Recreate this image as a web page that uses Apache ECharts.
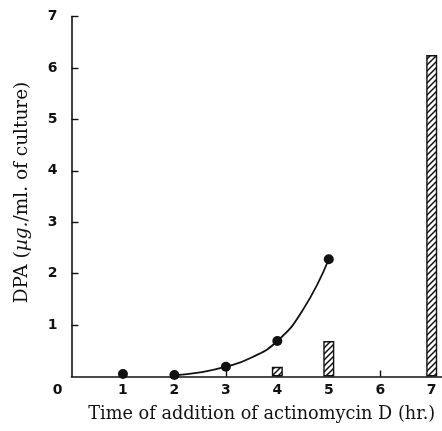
<!DOCTYPE html>
<html>
<head>
<meta charset="utf-8">
<script src="https://cdn.jsdelivr.net/npm/echarts@6/dist/echarts.min.js"></script>
<style>
  html, body { margin: 0; padding: 0; background: #fff; }
  #chart { width: 442px; height: 431px; }
</style>
</head>
<body>
<div id="chart"></div>
<script>
// DPA measured after actinomycin D was added at different times
const hours = [1, 2, 3, 4, 5];
const dpaDots = [0.05, 0.03, 0.19, 0.69, 2.28];

// fitted trend line through the later measurements
const curveHours = [2, 2.5, 3, 3.5, 4, 4.5, 5];
const curveValues = [0.02, 0.08, 0.19, 0.37, 0.69, 1.3, 2.28];

// hatched bars
const barHours = [4, 5, 7];
const barValues = [0.19, 0.69, 6.25];

const xTicks = [0, 1, 2, 3, 4, 5, 6, 7];
const yTicks = [0, 1, 2, 3, 4, 5, 6, 7];

// diagonal hatch tile for the bars
function hatchTile() {
  const s = 6;
  const c = document.createElement('canvas');
  c.width = s; c.height = s;
  const g = c.getContext('2d');
  g.fillStyle = '#fff';
  g.fillRect(0, 0, s, s);
  g.strokeStyle = '#111';
  g.lineWidth = 1.5;
  g.beginPath();
  g.moveTo(-1, s + 1); g.lineTo(s + 1, -1);
  g.moveTo(-1, 1); g.lineTo(1, -1);
  g.moveTo(s - 1, s + 1); g.lineTo(s + 1, s - 1);
  g.stroke();
  return c;
}

const tickFont = { fontFamily: 'DejaVu Sans', fontWeight: 'bold', fontSize: 14, color: '#111' };
const titleFont = { fontFamily: 'DejaVu Serif', fontSize: 18.5, color: '#111' };

const chart = echarts.init(document.getElementById('chart'), null, { renderer: 'canvas' });
chart.setOption({
  animation: false,
  backgroundColor: '#fff',
  grid: { left: 71.5, right: 0, top: 16.5, bottom: 54.5, containLabel: false, outerBoundsMode: 'none' },
  xAxis: {
    type: 'value',
    min: 0, max: 7.2,
    splitLine: { show: false },
    axisLine: { lineStyle: { color: '#111', width: 1.6 } },
    axisTick: { inside: true, length: 6, customValues: xTicks.slice(1), lineStyle: { color: '#111', width: 1.4 } },
    axisLabel: {
      customValues: xTicks,
      margin: 7,
      rotate: 0,
      ...tickFont,
      formatter: v => v === 0 ? '{o|0}' : String(v),
      rich: { o: { ...tickFont, padding: [0, 28, 0, 0] } }
    },
    name: 'Time of addition of actinomycin D (hr.)',
    nameLocation: 'middle',
    nameGap: 29,
    nameTextStyle: { ...titleFont, fontSize: 17.7, padding: [0, 0, 0, 10] }
  },
  yAxis: {
    type: 'value',
    min: 0, max: 7, interval: 1,
    splitLine: { show: false },
    axisLine: { lineStyle: { color: '#111', width: 1.6 } },
    axisTick: { inside: true, length: 7, customValues: yTicks.slice(1), lineStyle: { color: '#111', width: 1.4 } },
    axisLabel: {
      customValues: yTicks.slice(1),
      margin: 14,
      rotate: 0,
      ...tickFont
    },
    name: '{t|DPA (}{i|µg.}{t|/ml. of culture)}',
    nameLocation: 'middle',
    nameRotate: 90,
    nameGap: 40,
    nameTextStyle: {
      ...titleFont,
      padding: [0, 0, 0, 8],
      rich: {
        t: { ...titleFont },
        i: { ...titleFont, fontStyle: 'italic' }
      }
    }
  },
  series: [
    {
      type: 'bar',
      data: barHours.map((h, i) => [h, barValues[i]]),
      barWidth: 11,
      itemStyle: {
        color: { image: hatchTile(), repeat: 'repeat' },
        borderColor: '#111',
        borderWidth: 1.4
      },
      z: 2
    },
    {
      type: 'line',
      data: curveHours.map((h, i) => [h, curveValues[i]]),
      smooth: true,
      showSymbol: false,
      lineStyle: { color: '#111', width: 1.8 },
      z: 3
    },
    {
      type: 'scatter',
      data: hours.map((h, i) => [h, dpaDots[i]]),
      symbolSize: 10,
      itemStyle: { color: '#111', opacity: 1 },
      z: 4
    }
  ]
});
</script>
</body>
</html>
